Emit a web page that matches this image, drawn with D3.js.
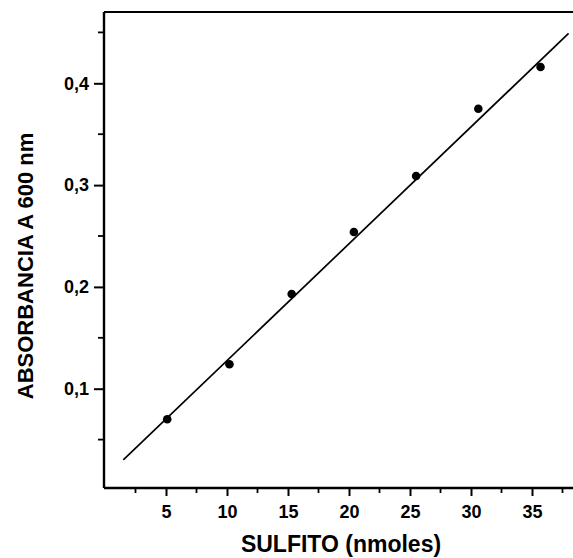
<!DOCTYPE html>
<html>
<head>
<meta charset="utf-8">
<script src="https://cdn.jsdelivr.net/npm/d3@7"></script>
<style>
  body { margin: 0; background: #fff; }
  text { font-family: "Liberation Sans", Arial, sans-serif; font-weight: bold; fill: #000; }
</style>
</head>
<body>
<div class="chart"></div>
<script>
// data
var sulfito = [5.1, 10.2, 15.3, 20.4, 25.5, 30.6, 35.7];
var absorbancia = [0.070, 0.124, 0.193, 0.254, 0.309, 0.375, 0.416];
// fitted line end points
var fitX = [1.5, 38.0];
var fitY = [0.030, 0.449];
var xTicks = [5, 10, 15, 20, 25, 30, 35];
var xMinor = [2.5, 7.5, 12.5, 17.5, 22.5, 27.5, 32.5, 37.5];
var yTicks = [0.1, 0.2, 0.3, 0.4];
var yMinor = [0.05, 0.15, 0.25, 0.35, 0.45];

var width = 573, height = 558;
var margin = {top: 12, left: 104, bottom: 488};

var svg = d3.select("div.chart")
    .append("svg")
    .attr("width", width)
    .attr("height", height);

var x = d3.scaleLinear()
    .domain([0, 40])
    .range([105, 105 + 12.2 * 40]);

var y = d3.scaleLinear()
    .domain([0, 0.47])
    .range([490.5, 490.5 - 1018 * 0.47]);

var fmt = function (d) { return d3.format(".1f")(d).replace(".", ","); };

// x axis
var xAxis = svg.append("g")
    .attr("transform", "translate(0," + margin.bottom + ")")
    .call(d3.axisBottom(x).tickValues(xTicks).tickSize(8).tickPadding(9).tickFormat(d3.format("d")));
xAxis.select(".domain").attr("d", "M" + margin.left + ",0H" + width).attr("stroke-width", 2.4);
xAxis.selectAll(".tick line").attr("stroke-width", 2);
xAxis.selectAll("text").style("font-size", "18px");

svg.append("g")
    .attr("transform", "translate(0," + margin.bottom + ")")
    .selectAll("line")
    .data(xMinor)
    .enter().append("line")
    .attr("x1", function (d) { return x(d); })
    .attr("x2", function (d) { return x(d); })
    .attr("y1", 0).attr("y2", 5)
    .attr("stroke", "#000").attr("stroke-width", 1.8);

// y axis
var yAxis = svg.append("g")
    .attr("transform", "translate(" + margin.left + ",0)")
    .call(d3.axisLeft(y).tickValues(yTicks).tickSize(10).tickPadding(5).tickFormat(fmt));
yAxis.select(".domain").attr("d", "M0," + margin.top + "V" + margin.bottom).attr("stroke-width", 2.4);
yAxis.selectAll(".tick line").attr("stroke-width", 2);
yAxis.selectAll("text").style("font-size", "18px");

svg.append("g")
    .attr("transform", "translate(" + margin.left + ",0)")
    .selectAll("line")
    .data(yMinor)
    .enter().append("line")
    .attr("y1", function (d) { return y(d); })
    .attr("y2", function (d) { return y(d); })
    .attr("x1", 0).attr("x2", -6)
    .attr("stroke", "#000").attr("stroke-width", 1.8);

// top frame line
svg.append("line")
    .attr("x1", margin.left).attr("x2", width)
    .attr("y1", margin.top).attr("y2", margin.top)
    .attr("stroke", "#000").attr("stroke-width", 2);

// fitted line
var line = d3.line()
    .x(function (d) { return x(d[0]); })
    .y(function (d) { return y(d[1]); });

svg.append("path")
    .datum(d3.zip(fitX, fitY))
    .attr("d", line)
    .attr("fill", "none")
    .attr("stroke", "#000")
    .attr("stroke-width", 1.7);

// points
svg.selectAll("circle.pt")
    .data(d3.zip(sulfito, absorbancia))
    .enter().append("circle")
    .attr("class", "pt")
    .attr("cx", function (d) { return x(d[0]); })
    .attr("cy", function (d) { return y(d[1]); })
    .attr("r", 4.3)
    .attr("fill", "#000");

// axis titles
svg.append("text")
    .attr("x", 341)
    .attr("y", 552)
    .attr("text-anchor", "middle")
    .style("font-size", "23px")
    .text("SULFITO (nmoles)");

svg.append("text")
    .attr("transform", "translate(33,266) rotate(-90)")
    .attr("text-anchor", "middle")
    .style("font-size", "22px")
    .text("ABSORBANCIA A 600 nm");
</script>
</body>
</html>
